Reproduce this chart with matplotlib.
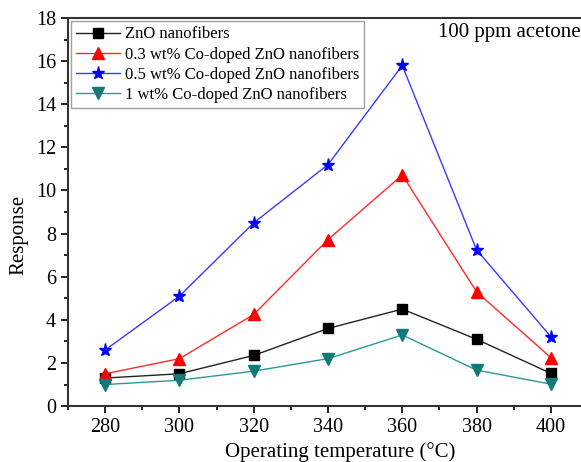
import numpy as np
import matplotlib
matplotlib.use("Agg")
from matplotlib import pyplot as plt
from matplotlib.ticker import MultipleLocator

temps = [280, 300, 320, 340, 360, 380, 400]
zno = [1.3, 1.5, 2.35, 3.6, 4.5, 3.1, 1.52]
co03 = [1.5, 2.2, 4.25, 7.72, 10.72, 5.3, 2.25]
co05 = [2.6, 5.1, 8.5, 11.2, 15.8, 7.25, 3.22]
co1 = [1.0, 1.2, 1.62, 2.2, 3.3, 1.67, 1.02]

labels = ["ZnO nanofibers",
          "0.3 wt% Co-doped ZnO nanofibers",
          "0.5 wt% Co-doped ZnO nanofibers",
          "1 wt% Co-doped ZnO nanofibers"]

plt.rcParams["font.family"] = ["Liberation Serif", "DejaVu Serif"]

fig = plt.figure(figsize=(5.81, 4.62), dpi=100)
ax = fig.add_axes([0.117, 0.121, 0.895, 0.840])

ax.plot(temps, zno, color="#222222", lw=1, marker="s", ms=6.5, mfc="black", mec="black", label=labels[0])
ax.plot(temps, co03, color="#ff2a2a", lw=1, marker="^", ms=8.5, mfc="red", mec="red", label=labels[1])
ax.plot(temps, co05, color="#3a3aff", lw=1, marker="*", ms=9.5, mfc="blue", mec="blue", label=labels[2])
ax.plot(temps, co1, color="#2a9a96", lw=1, marker="v", ms=8.5, mfc="#117a78", mec="#117a78", label=labels[3])

ax.set_xlim(270, 410)
ax.set_ylim(0, 18)
ax.xaxis.set_major_locator(MultipleLocator(20))
ax.xaxis.set_minor_locator(MultipleLocator(10))
ax.yaxis.set_major_locator(MultipleLocator(2))
ax.yaxis.set_minor_locator(MultipleLocator(1))
ax.tick_params(which="major", direction="out", length=5, width=1.2, labelsize=14.5)
ax.tick_params(which="minor", direction="out", length=3, width=1.2)
for s in ax.spines.values():
    s.set_linewidth(1.5)
    s.set_color("#333333")

ax.set_xlabel("Operating temperature (\u00b0C)", fontsize=15)
ax.set_ylabel("Response", fontsize=15)
ax.xaxis.set_label_coords(0.523, -0.092)
ax.yaxis.set_label_coords(-0.077, 0.44)

leg = ax.legend(loc="upper left", fontsize=12, frameon=True, fancybox=False,
                edgecolor="#888888", handlelength=2.6, borderpad=0.3,
                labelspacing=0.25, handletextpad=0.3, borderaxespad=0.2)
leg.get_frame().set_linewidth(1)

fig.text(438 / 581, 1 - 32 / 462, "100 ppm acetone", fontsize=15, va="center", ha="left")

fig.savefig("out.png", dpi=100)
